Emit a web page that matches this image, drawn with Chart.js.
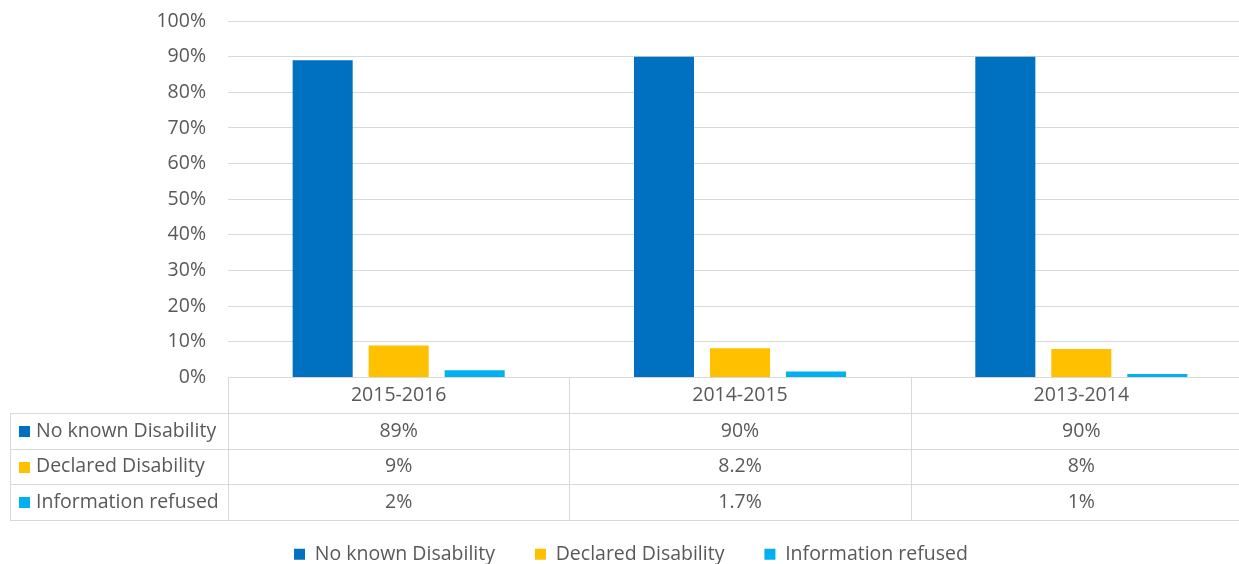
<!DOCTYPE html>
<html>
<head>
<meta charset="utf-8">
<script src="https://cdn.jsdelivr.net/npm/chart.js@4"></script>
<style>
    html, body { margin: 0; padding: 0; background: #fff; overflow: hidden; }
    #wrap { width: 1260px; height: 564px; }
</style>
</head>
<body>
<div id="wrap"><canvas id="disabilityChart" width="1260" height="564"></canvas></div>
<script>
// Academic years and the share of students in each group
const categories = ['2015-2016', '2014-2015', '2013-2014'];
const seriesNames = ['No known Disability', 'Declared Disability', 'Information refused'];
const noKnownDisability = [89, 90, 90];
const declaredDisability = [9, 8.2, 8];
const informationRefused = [2, 1.7, 1];
const yTicks = [0, 10, 20, 30, 40, 50, 60, 70, 80, 90, 100];

const seriesColors = ['#0070C0', '#FFC000', '#00B0F0'];
const TEXT = '#595959';
const LINE = '#D9D9D9';
const FONT = "'Open Sans', sans-serif";
const FONT_SIZE = 19.5;

const seriesValues = [noKnownDisability, declaredDisability, informationRefused];

// Data table under the plot: header row with the years, then one row per series
const dataTablePlugin = {
    id: 'dataTable',
    afterDraw(chart) {
        const ctx = chart.ctx;
        const x = chart.scales.x;
        const y = chart.scales.y;
        const top = y.getPixelForValue(0);
        const rowH = y.getPixelForValue(0) - y.getPixelForValue(10);
        const tableLeft = 10;
        const plotLeft = chart.chartArea.left;
        const plotRight = chart.chartArea.right;
        const half = (x.getPixelForValue(1) - x.getPixelForValue(0)) / 2;

        ctx.save();
        ctx.strokeStyle = LINE;
        ctx.lineWidth = 1;

        // horizontal rules
        for (let r = 1; r <= 4; r++) {
            const yy = Math.round(top + r * rowH) + 0.5;
            ctx.beginPath();
            ctx.moveTo(tableLeft, yy);
            ctx.lineTo(plotRight, yy);
            ctx.stroke();
        }
        // left border of the series-name column
        ctx.beginPath();
        ctx.moveTo(tableLeft + 0.5, Math.round(top + rowH));
        ctx.lineTo(tableLeft + 0.5, Math.round(top + 4 * rowH));
        ctx.stroke();
        // column separators
        const seps = [plotLeft];
        categories.forEach((c, i) => seps.push(x.getPixelForValue(i) + half));
        seps.forEach(sx => {
            const xx = Math.round(sx) + 0.5;
            ctx.beginPath();
            ctx.moveTo(xx, top);
            ctx.lineTo(xx, Math.round(top + 4 * rowH));
            ctx.stroke();
        });

        ctx.font = FONT_SIZE + 'px ' + FONT;
        ctx.fillStyle = TEXT;
        ctx.textBaseline = 'middle';
        ctx.textAlign = 'center';

        // header row
        categories.forEach((c, i) => {
            ctx.fillText(c, x.getPixelForValue(i), top + rowH / 2);
        });

        // value rows
        seriesValues.forEach((vals, s) => {
            const cy = top + (s + 1.5) * rowH;
            ctx.textAlign = 'center';
            ctx.fillStyle = TEXT;
            vals.forEach((v, i) => {
                ctx.fillText(v + '%', x.getPixelForValue(i), cy);
            });
            // legend key and series name
            ctx.fillStyle = seriesColors[s];
            ctx.fillRect(19, Math.round(cy - 5), 11, 11);
            ctx.fillStyle = TEXT;
            ctx.textAlign = 'left';
            ctx.fillText(seriesNames[s], 36, cy);
        });
        ctx.restore();
    }
};

const ctx = document.getElementById('disabilityChart').getContext('2d');

new Chart(ctx, {
    type: 'bar',
    data: {
        labels: categories,
        datasets: seriesValues.map((vals, s) => ({
            label: seriesNames[s],
            data: vals,
            backgroundColor: seriesColors[s],
            borderWidth: 0,
            categoryPercentage: 0.668,
            barPercentage: 0.79
        }))
    },
    options: {
        responsive: false,
        animation: false,
        layout: {
            padding: { left: 10, right: 8, top: 21, bottom: -10 }
        },
        plugins: {
            legend: {
                position: 'bottom',
                labels: {
                    boxWidth: 11,
                    boxHeight: 11,
                    padding: 40,
                    color: TEXT,
                    font: { family: FONT, size: FONT_SIZE }
                }
            },
            tooltip: { enabled: false }
        },
        scales: {
            x: {
                grid: { display: false },
                border: { display: true, color: LINE },
                ticks: { display: false },
                afterFit: scale => {
                    scale.height = 127;
                    scale.paddingLeft = 0;
                    scale.paddingRight = 0;
                }
            },
            y: {
                min: 0,
                max: 100,
                afterBuildTicks: scale => {
                    scale.ticks = yTicks.map(v => ({ value: v }));
                },
                afterFit: scale => {
                    scale.width = 218;
                    scale.paddingTop = 0;
                    scale.paddingBottom = 0;
                },
                grid: { color: LINE, drawTicks: false },
                border: { display: false },
                ticks: {
                    padding: 22,
                    color: TEXT,
                    font: { family: FONT, size: FONT_SIZE },
                    callback: v => v + '%'
                }
            }
        }
    },
    plugins: [dataTablePlugin]
});
</script>
</body>
</html>
